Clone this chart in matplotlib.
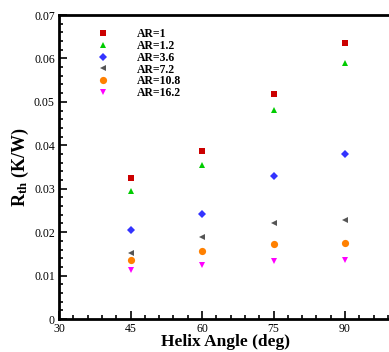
import matplotlib
matplotlib.use("Agg")
import matplotlib.pyplot as plt
from matplotlib.ticker import MultipleLocator, FixedLocator, FuncFormatter

plt.rcParams['font.family'] = ['Liberation Serif', 'DejaVu Serif']
plt.rcParams['mathtext.fontset'] = 'custom'
plt.rcParams['mathtext.rm'] = 'Liberation Serif'
plt.rcParams['mathtext.bf'] = 'Liberation Serif:bold'

angles = [45, 60, 75, 90]
labels = ["AR=1", "AR=1.2", "AR=3.6", "AR=7.2", "AR=10.8", "AR=16.2"]
ar1 = [0.0325, 0.0387, 0.0517, 0.0635]
ar12 = [0.0295, 0.0354, 0.0481, 0.0590]
ar36 = [0.0205, 0.0241, 0.0330, 0.0380]
ar72 = [0.0151, 0.0188, 0.0220, 0.0227]
ar108 = [0.0135, 0.0156, 0.0172, 0.0176]
ar162 = [0.0112, 0.0124, 0.0134, 0.0137]
series = [ar1, ar12, ar36, ar72, ar108, ar162]

styles = [
    dict(marker='s', color='#CC0000', ms=4.2),
    dict(marker='^', color='#00CC00', ms=4.2),
    dict(marker='D', color='#3333FF', ms=3.8),
    dict(marker='<', color='#555555', ms=4.2),
    dict(marker='o', color='#FF8000', ms=5.2),
    dict(marker='v', color='#FF00FF', ms=4.2),
]

fig = plt.figure(figsize=(3.89, 3.52), dpi=100)
ax = fig.add_axes([59/389, 1-319/352, (392.7-59)/389, (319-15)/352])

for vals, lab, st in zip(series, labels, styles):
    ax.plot(angles, vals, linestyle='none', marker=st['marker'], color=st['color'],
            markersize=st['ms'], markeredgewidth=0, label=lab)

ax.set_xlim(30, 100)
ax.set_ylim(0, 0.07)
ax.xaxis.set_major_locator(FixedLocator([30, 45, 60, 75, 90]))
ax.xaxis.set_minor_locator(MultipleLocator(3))
ax.yaxis.set_major_locator(MultipleLocator(0.01))
ax.yaxis.set_minor_locator(MultipleLocator(0.002))
ax.yaxis.set_major_formatter(FuncFormatter(lambda v, p: "0" if abs(v) < 1e-9 else f"{v:.2f}"))

ax.tick_params(which='both', direction='in', top=False, right=False, labelsize=8.5, width=1.2)
ax.tick_params(which='major', length=6, pad=3)
ax.tick_params(which='minor', length=3)
for s in ax.spines.values():
    s.set_linewidth(2)

ax.set_xlabel("Helix Angle (deg)", fontsize=12.5, fontweight='bold', labelpad=-1)
ax.set_ylabel(r"$\mathbf{R_{th}}$ (K/W)", fontsize=13, fontweight='bold', labelpad=2)

leg = ax.legend(loc='upper left', bbox_to_anchor=(0.10, 0.972), frameon=False,
                prop={'family': 'Liberation Serif', 'weight': 'bold', 'size': 8.5},
                handletextpad=2.4, labelspacing=-0.02, handlelength=1.0, borderaxespad=0)

fig.savefig("out.png", dpi=100)
